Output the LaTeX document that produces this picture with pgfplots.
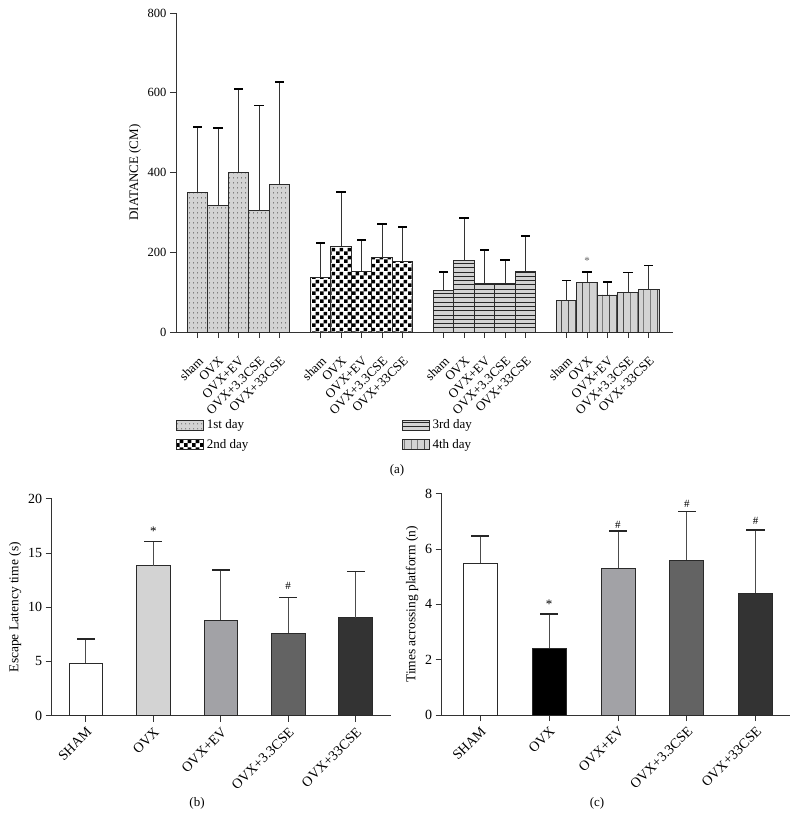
\documentclass[border=0pt]{standalone}
\usepackage{fontspec}
\setmainfont{Liberation Serif}
\usepackage{pgfplots}
\usepackage{pgfplotstable}
\pgfplotsset{compat=1.18}
\usetikzlibrary{patterns.meta}
\definecolor{barlight}{HTML}{D3D3D3}
\definecolor{edgec}{HTML}{2A2A2A}
\definecolor{cEV}{HTML}{A2A2A6}
\definecolor{cA}{HTML}{636363}
\definecolor{cB}{HTML}{333333}

\tikzdeclarepattern{name=mydots, bottom left={(0pt,0pt)}, top right={(4pt,4.6pt)}, tile size={(4pt,4.6pt)},
  code={\fill (2pt,2.3pt) circle (0.6pt);}}
\tikzdeclarepattern{name=mycheck, bottom left={(0pt,0pt)}, top right={(8pt,8pt)}, tile size={(8pt,8pt)},
  code={\fill (0pt,0pt) rectangle (4pt,4pt); \fill (4pt,4pt) rectangle (8pt,8pt);}}
\tikzdeclarepattern{name=myhlines, bottom left={(-0.1pt,-0.5pt)}, top right={(4.1pt,0.5pt)}, tile size={(4pt,4.3pt)},
  code={\draw[line width=0.8pt] (-0.1pt,0pt)--(4.1pt,0pt);}}
\tikzdeclarepattern{name=myvlines, bottom left={(-0.5pt,-0.1pt)}, top right={(0.5pt,4.1pt)}, tile size={(6.85pt,4pt)},
  code={\draw[line width=0.9pt] (0pt,-0.1pt)--(0pt,4.1pt);}}

% day 1 .. day 4: x position, mean, upper error
\pgfplotstableread{
x y e
0 350 164
1 318 193
2 401 209
3 304 264
4 370 256
}\dayA
\pgfplotstableread{
x y e
6 137 86
7 215 137
8 152 78
9 187 83
10 176 88
}\dayB
\pgfplotstableread{
x y e
12 105 46
13 180 106
14 122 84
15 122 59
16 152 89
}\dayC
\pgfplotstableread{
x y e
18 79 50
19 125 26
20 93 33
21 99 50
22 106 61
}\dayD

\pgfplotsset{
  common/.style={
    scale only axis,
    axis x line*=bottom, axis y line*=left,
    tick align=outside, major tick length=6pt,
    tick style={black!80, line width=0.8pt},
    axis line style={black!80, line width=0.9pt},
    /pgf/number format/assume math mode=true,
    every axis plot/.append style={bar shift=0pt},
  },
  stems/.style={draw=none, fill=none, forget plot,
    error bars/.cd, y dir=plus, y explicit, error mark=none,
    error bar style={draw=#1, line width=0.8pt, solid}},
  caps/.style 2 args={draw=none, fill=none, forget plot, sharp plot, mark=none,
    error bars/.cd, x dir=both, x fixed=#1, error mark=none,
    error bar style={draw=#2, line width=1.8pt, solid}},
}

\begin{document}
\begin{tikzpicture}
\useasboundingbox (0pt,0pt) rectangle (799pt,-831pt);

% ---------------- (a) ----------------
\begin{axis}[common,
  at={(176pt,-332pt)}, anchor=south west,
  width=497pt, height=319pt,
  xmin=-1.05, xmax=23.19, ymin=0, ymax=800,
  ytick={0,200,...,800},
  xtick={0,1,2,3,4,6,7,8,9,10,12,13,14,15,16,18,19,20,21,22},
  xticklabels={sham,OVX,OVX+EV,OVX+3.3CSE,OVX+33CSE,sham,OVX,OVX+EV,OVX+3.3CSE,OVX+33CSE,sham,OVX,OVX+EV,OVX+3.3CSE,OVX+33CSE,sham,OVX,OVX+EV,OVX+3.3CSE,OVX+33CSE},
  xticklabel style={rotate=45, anchor=north east, inner sep=1pt, font=\fontsize{13}{15}\selectfont},
  xticklabel shift=16pt,
  yticklabel style={font=\fontsize{12.5}{14}\selectfont},
  ylabel={DIATANCE (CM)}, ylabel style={font=\fontsize{13}{15}\selectfont},
  ybar, bar width=1,
  legend columns=2,
  legend cell align=left,
  legend style={at={(0,-0.265)}, anchor=north west, draw=none, fill=none, inner sep=0pt,
    font=\fontsize{13}{15}\selectfont, row sep=3pt,
    nodes={inner sep=3pt}},
  legend image code/.code={\draw[#1] (0pt,-5pt) rectangle (27pt,5pt);},
]
\addplot[draw=edgec, line width=0.7pt, preaction={fill=barlight}, pattern=mydots, pattern color=black!75]
  table[x=x, y=y] {\dayA};
\addlegendentry{\makebox[192pt][l]{1st day}}
\addplot[draw=edgec, line width=0.7pt, preaction={fill=barlight}, pattern=myhlines, pattern color=black!85]
  table[x=x, y=y] {\dayC};
\addlegendentry{3rd day}
\addplot[draw=edgec, line width=0.7pt, preaction={fill=white}, pattern=mycheck, pattern color=black]
  table[x=x, y=y] {\dayB};
\addlegendentry{\makebox[192pt][l]{2nd day}}
\addplot[draw=edgec, line width=0.7pt, preaction={fill=barlight}, pattern=myvlines, pattern color=black!70]
  table[x=x, y=y] {\dayD};
\addlegendentry{4th day}
\addplot[stems=black!80] table[x=x, y=y, y error=e] {\dayA};
\addplot[stems=black!80] table[x=x, y=y, y error=e] {\dayB};
\addplot[stems=black!80] table[x=x, y=y, y error=e] {\dayC};
\addplot[stems=black!80] table[x=x, y=y, y error=e] {\dayD};
\addplot[caps={0.225}{black}] table[x=x, y expr=\thisrow{y}+\thisrow{e}] {\dayA};
\addplot[caps={0.225}{black}] table[x=x, y expr=\thisrow{y}+\thisrow{e}] {\dayB};
\addplot[caps={0.225}{black}] table[x=x, y expr=\thisrow{y}+\thisrow{e}] {\dayC};
\addplot[caps={0.225}{black}] table[x=x, y expr=\thisrow{y}+\thisrow{e}] {\dayD};
\node[font=\fontsize{11}{12}\selectfont, text=black!60] at (axis cs:19,178) {*};
\end{axis}
\node[font=\fontsize{13}{15}\selectfont] at (397pt,-470pt) {(a)};

% ---------------- (b) ----------------
\begin{axis}[common,
  at={(51.7pt,-715.7pt)}, anchor=south west,
  width=339pt, height=217pt,
  xmin=-0.506, xmax=4.52, ymin=0, ymax=20,
  ytick={0,5,...,20},
  xtick={0,...,4},
  xticklabels={SHAM,OVX,OVX+EV,OVX+3.3CSE,OVX+33CSE},
  xticklabel style={rotate=45, anchor=north east, inner sep=1pt, font=\fontsize{14}{16}\selectfont},
  xticklabel shift=3pt,
  yticklabel style={font=\fontsize{14}{16}\selectfont},
  ylabel={Escape Latency time (s)}, ylabel style={font=\fontsize{13.5}{15}\selectfont},
  ybar, bar width=0.5,
]
\addplot[draw=edgec, line width=0.7pt, fill=white] coordinates {(0,4.83)};
\addplot[draw=edgec, line width=0.7pt, fill=barlight] coordinates {(1,13.82)};
\addplot[draw=edgec, line width=0.7pt, fill=cEV] coordinates {(2,8.80)};
\addplot[draw=edgec, line width=0.7pt, fill=cA] coordinates {(3,7.63)};
\addplot[draw=edgec, line width=0.7pt, fill=cB] coordinates {(4,9.02)};
\addplot[stems=black!70] coordinates {(0,4.83) +- (0,2.22) (1,13.82) +- (0,2.24) (2,8.80) +- (0,4.62) (3,7.63) +- (0,3.26) (4,9.02) +- (0,4.27)};
\addplot[caps={0.135}{black!85}] coordinates {(0,7.05) (1,16.06) (2,13.42) (3,10.89) (4,13.29)};
\node[font=\fontsize{13}{14}\selectfont] at (axis cs:1,17.0) {*};
\node[font=\fontsize{11}{12}\selectfont] at (axis cs:3,12.0) {\#};
\end{axis}
\node[font=\fontsize{13}{15}\selectfont] at (197pt,-803pt) {(b)};

% ---------------- (c) ----------------
\begin{axis}[common,
  at={(441.7pt,-715pt)}, anchor=south west,
  width=348.3pt, height=221.3pt,
  xmin=-0.56, xmax=4.50, ymin=0, ymax=8,
  ytick={0,2,...,8},
  xtick={0,...,4},
  xticklabels={SHAM,OVX,OVX+EV,OVX+3.3CSE,OVX+33CSE},
  xticklabel style={rotate=45, anchor=north east, inner sep=1pt, font=\fontsize{14}{16}\selectfont},
  xticklabel shift=3pt,
  yticklabel style={font=\fontsize{14}{16}\selectfont},
  ylabel={Times acrossing platform (n)}, ylabel style={font=\fontsize{13.5}{15}\selectfont},
  ybar, bar width=0.494,
]
\addplot[draw=edgec, line width=0.7pt, fill=white] coordinates {(0,5.49)};
\addplot[draw=edgec, line width=0.7pt, fill=black] coordinates {(1,2.41)};
\addplot[draw=edgec, line width=0.7pt, fill=cEV] coordinates {(2,5.31)};
\addplot[draw=edgec, line width=0.7pt, fill=cA] coordinates {(3,5.60)};
\addplot[draw=edgec, line width=0.7pt, fill=cB] coordinates {(4,4.40)};
\addplot[stems=black!70] coordinates {(0,5.49) +- (0,0.97) (1,2.41) +- (0,1.25) (2,5.31) +- (0,1.33) (3,5.60) +- (0,1.76) (4,4.40) +- (0,2.30)};
\addplot[caps={0.133}{black!85}] coordinates {(0,6.46) (1,3.66) (2,6.64) (3,7.36) (4,6.70)};
\node[font=\fontsize{13}{14}\selectfont] at (axis cs:1,4.01) {*};
\node[font=\fontsize{11}{12}\selectfont] at (axis cs:2,6.89) {\#};
\node[font=\fontsize{11}{12}\selectfont] at (axis cs:3,7.65) {\#};
\node[font=\fontsize{11}{12}\selectfont] at (axis cs:4,7.02) {\#};
\end{axis}
\node[font=\fontsize{13}{15}\selectfont] at (597pt,-803pt) {(c)};
\end{tikzpicture}
\end{document}
